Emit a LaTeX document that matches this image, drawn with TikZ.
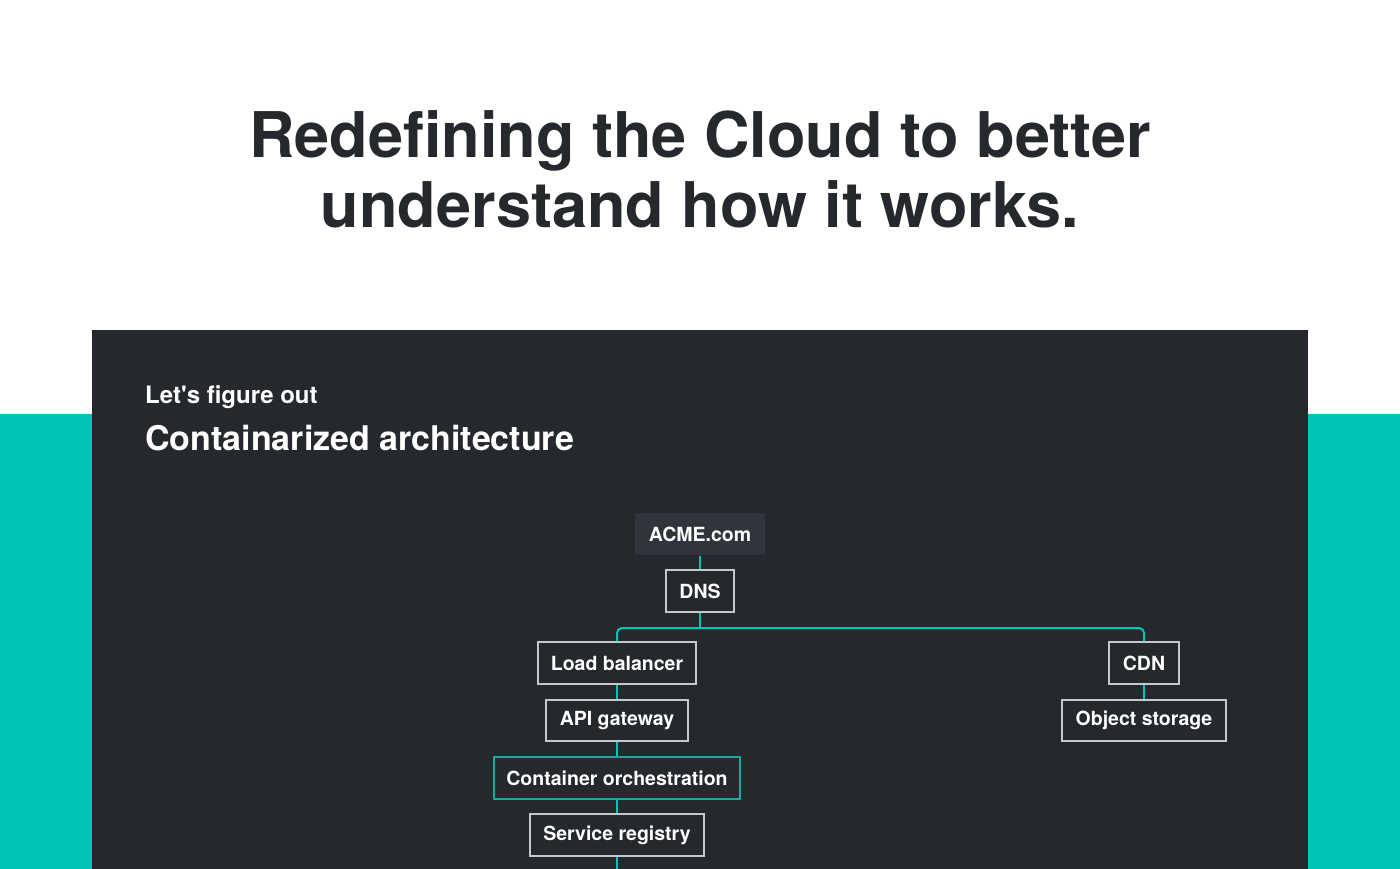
\documentclass[tikz,border=0pt]{standalone}
\usepackage{fontspec}
\setmainfont{TeX Gyre Heros}
\usetikzlibrary{positioning}

\definecolor{panel}{HTML}{25292E}
\definecolor{boxfill}{HTML}{2F343D}
\definecolor{teal}{HTML}{00C4B4}
\definecolor{tealdark}{HTML}{1FA89C}
\definecolor{edge}{HTML}{C5C9CE}
\definecolor{ink}{HTML}{25292E}

\tikzset{
  svc/.style={draw=edge, line width=1.1pt, fill=panel, text=white, font=\fontsize{19.5}{22}\selectfont\bfseries, minimum height=42pt, inner sep=0pt},
  wire/.style={draw=teal, line width=2pt},
}

\begin{document}
\begin{tikzpicture}[x=1pt,y=-1pt]
\useasboundingbox (0,0) rectangle (1400,869);
\fill[white] (0,0) rectangle (1400,869);
\fill[teal] (0,414) rectangle (1400,869);
\fill[panel] (92,330) rectangle (1308,869);

% heading
\node (title1) at (700,158) [anchor=base, text=ink, font=\fontsize{63}{70}\selectfont\bfseries] {Redefining the Cloud to better};
\node (title2) at (700,228) [anchor=base, text=ink, font=\fontsize{63}{70}\selectfont\bfseries] {understand how it works.};

\node (kicker) at (145,403) [anchor=base west, inner sep=0pt, text=white, font=\fontsize{24}{28}\selectfont\bfseries] {Let\textquotesingle s figure out};
\node (head) at (145,450) [anchor=base west, inner sep=0pt, text=white, font=\fontsize{34}{40}\selectfont\bfseries] {Containarized architecture};

% boxes
\node (acme) at (700,534) [svc, draw=none, fill=boxfill, minimum width=130pt] {ACME.com};
\node (dns) at (700,591) [svc, minimum width=68pt] {DNS};
\node (lb) at (617,663) [svc, minimum width=158pt] {Load balancer};
\node (api) at (617,720.5) [svc, minimum width=142pt, minimum height=41pt] {API gateway};
\node (orch) at (617,778) [svc, draw=tealdark, minimum width=246pt] {Container orchestration};
\node (reg) at (617,835) [svc, minimum width=174pt] {Service registry};
\node (cdn) at (1144,663) [svc, minimum width=70pt] {CDN};
\node (obj) at (1144,720.5) [svc, minimum width=164pt, minimum height=41pt] {Object storage};

\coordinate (split) at (700,628);
\coordinate (tail) at (617,869);

% links
\draw[wire] (acme) -- (dns);
\draw[wire] (dns) -- (split);
\draw[wire, rounded corners=5pt] (lb) |- (split) -| (cdn);
\draw[wire] (lb) -- (api);
\draw[wire] (api) -- (orch);
\draw[wire] (orch) -- (reg);
\draw[wire] (reg) -- (tail);
\draw[wire] (cdn) -- (obj);
\end{tikzpicture}
\end{document}
